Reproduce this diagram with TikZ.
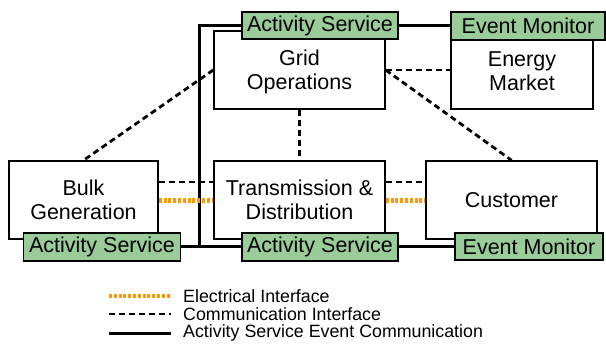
\documentclass[tikz,border=0pt]{standalone}
\usepackage{fontspec}
\setmainfont{Liberation Sans}
\definecolor{svcgreen}{RGB}{153,204,153}
\definecolor{elecorange}{RGB}{255,153,0}
\begin{document}
\begin{tikzpicture}[x=1pt,y=-1pt,
  domainbox/.style={draw=black,line width=1.4pt,fill=white,font=\fontsize{21.5}{24}\selectfont,align=center,inner sep=0pt},
  ifacebox/.style={draw=black,line width=1.4pt,fill=svcgreen,font=\fontsize{21.5}{24}\selectfont,inner sep=0pt},
  elec/.style={draw=elecorange,line width=5pt,dash pattern=on 3pt off 1.8pt},
  comm/.style={draw=black,line width=2.8pt,dash pattern=on 6pt off 4pt},
  eventline/.style={draw=black,line width=3pt},
  legtext/.style={anchor=west,font=\fontsize{17.8}{20}\selectfont,inner sep=0pt}
]
\useasboundingbox (0,0) rectangle (606,348);

% coordinates for the event-communication bus
\coordinate (busTop) at (199,25);
\coordinate (busBot) at (199,246);

% solid bus drawn first, interface boxes sit on top of it
\draw[eventline] (451,25) -- (busTop) -- (busBot) -- (180,246);
\draw[eventline] (busBot) -- (455,246);

% domain boxes
\node[domainbox,minimum width=171pt,minimum height=78pt] (grid) at (299.5,70) {};
\node[font=\fontsize{21.5}{24}\selectfont,align=center] (gridText) at (299.5,72) {Grid\\Operations};
\node[domainbox,minimum width=142pt,minimum height=70pt] (market) at (522,74) {};
\node[font=\fontsize{21.5}{24}\selectfont,align=center] (marketText) at (522,71) {Energy\\Market};
\node[domainbox,minimum width=149pt,minimum height=78pt] (bulk) at (83.5,200) {Bulk\\Generation};
\node[domainbox,minimum width=171pt,minimum height=78pt] (td) at (299.5,200) {Transmission \&\\Distribution};
\node[domainbox,minimum width=171pt,minimum height=78pt] (cust) at (511.5,200) {Customer};

% communication interfaces
\draw[comm] (grid.west) -- (bulk.north);
\draw[comm] (grid.east) -- (cust.north);
\draw[comm] (grid.east) -- (market.west |- grid.east);
\draw[comm] (grid.south) -- (td.north);
\draw[comm] (bulk.east |- 0,182) -- (td.west |- 0,182);
\draw[comm] (td.east |- 0,182) -- (cust.west |- 0,182);

% electrical interfaces
\draw[elec] (bulk.east |- 0,200.5) -- (td.west |- 0,200.5);
\draw[elec] (td.east |- 0,200.5) -- (cust.west |- 0,200.5);

% activity service / event monitor boxes
\node[ifacebox,minimum width=156pt,minimum height=27pt] (asGrid) at (320,25.5) {Activity Service};
\node[ifacebox,minimum width=154pt,minimum height=28pt] (emMarket) at (528,26) {Event Monitor};
\node[ifacebox,minimum width=157pt,minimum height=28pt] (asBulk) at (102,247) {Activity Service};
\node[ifacebox,minimum width=156pt,minimum height=28pt] (asTD) at (320,247) {Activity Service};
\node[ifacebox,minimum width=148pt,minimum height=27pt] (emCust) at (529,246.5) {Event Monitor};

% legend
\coordinate (l1a) at (109,296); \coordinate (l1b) at (171,296);
\coordinate (l2a) at (109,314); \coordinate (l2b) at (171,314);
\coordinate (l3a) at (109,333); \coordinate (l3b) at (171,333);
\draw[elec,line width=4.5pt] (l1a) -- (l1b);
\draw[comm] (l2a) -- (l2b);
\draw[eventline] (l3a) -- (l3b);
\node[legtext] (t1) at (183,296) {Electrical Interface};
\node[legtext] (t2) at (183,314) {Communication Interface};
\node[legtext] (t3) at (183,333) {Activity Service Event Communication};
\end{tikzpicture}
\end{document}
